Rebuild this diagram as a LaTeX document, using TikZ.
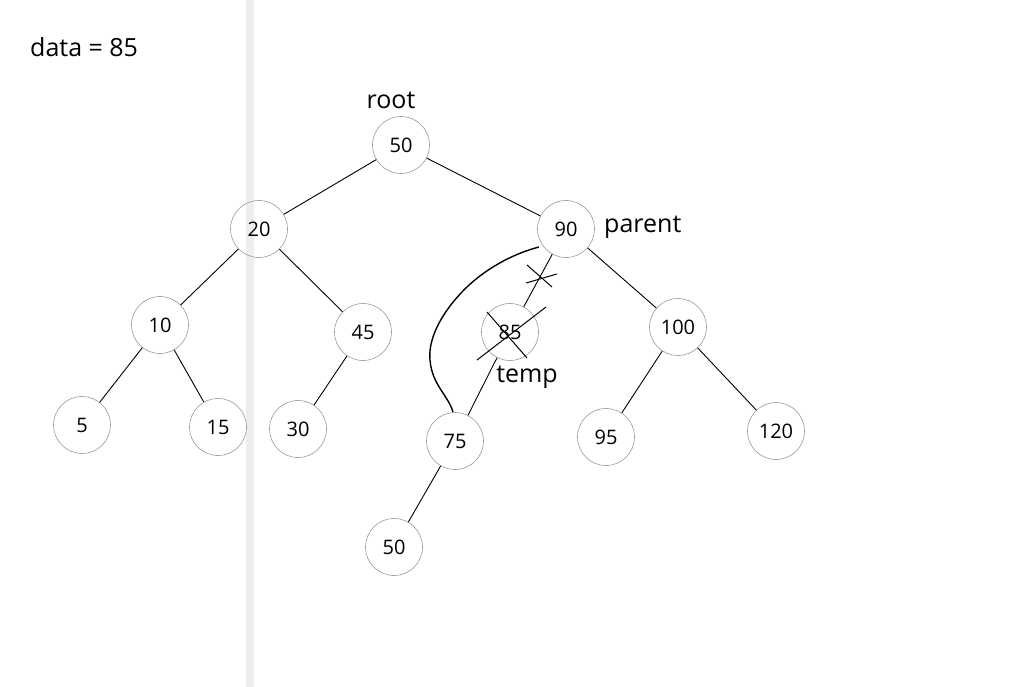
\documentclass[tikz,border=0pt]{standalone}
\usepackage{fontspec}
\setmainfont{Open Sans}
\begin{document}
\begin{tikzpicture}[x=1pt,y=-1pt,
  bst/.style={circle,draw=black!40,line width=0.6pt,minimum size=57pt,inner sep=0pt,font=\fontsize{20}{21}\selectfont},
  lbl/.style={font=\fontsize{25}{27}\selectfont,inner sep=0pt},
  edge/.style={draw=black,line width=0.9pt}]
\useasboundingbox (0,0) rectangle (1014,687);
\fill[black!7] (246,0) rectangle (254,687);
\node[bst] (n50) at (401,145) {50};
\node[bst] (n20) at (259,229) {20};
\node[bst] (n90) at (566,229) {90};
\node[bst] (n10) at (160,325) {10};
\node[bst] (n45) at (363,332) {45};
\node[bst] (n85) at (510,332) {85};
\node[bst] (n100) at (678,327) {100};
\node[bst] (n5) at (82,425) {5};
\node[bst] (n15) at (218,427) {15};
\node[bst] (n30) at (298,429) {30};
\node[bst] (n75) at (455,441) {75};
\node[bst] (n95) at (606,437) {95};
\node[bst] (n120) at (776,431) {120};
\node[bst] (n50b) at (394,547) {50};
\node[lbl,anchor=west] (data) at (30,47) {data = 85};
\node[lbl] (root) at (391,100) {root};
\node[lbl,anchor=west] (parent) at (604,227) {parent};
\node[lbl] (temp) at (527,377) {temp};
\draw[edge] (n50)--(n20);
\draw[edge] (n50)--(n90);
\draw[edge] (n20)--(n10);
\draw[edge] (n20)--(n45);
\draw[edge] (n10)--(n5);
\draw[edge] (n10)--(n15);
\draw[edge] (n45)--(n30);
\draw[edge] (n90)--(n85);
\draw[edge] (n90)--(n100);
\draw[edge] (n85)--(n75);
\draw[edge] (n100)--(n95);
\draw[edge] (n100)--(n120);
\draw[edge] (n75)--(n50b);
% crosses
\coordinate (c1a) at (527,265); \coordinate (c1b) at (552,287);
\coordinate (c2a) at (526,283); \coordinate (c2b) at (557,274);
\draw[edge,line width=1pt] (c1a)--(c1b);
\draw[edge,line width=1pt] (c2a)--(c2b);
\coordinate (x1a) at (487,312); \coordinate (x1b) at (527,358);
\coordinate (x2a) at (546,307); \coordinate (x2b) at (477,360);
\draw[edge,line width=1pt] (x1a)--(x1b);
\draw[edge,line width=1pt] (x2a)--(x2b);
% curve
\coordinate (k0) at (539,247);
\coordinate (k4) at (453,412);
\draw[line width=1.4pt] (k0) .. controls (505,256) and (478,275) .. (462,292)
  .. controls (440,315) and (428,340) .. (430,360)
  .. controls (432,385) and (448,395) .. (k4);
\end{tikzpicture}
\end{document}
